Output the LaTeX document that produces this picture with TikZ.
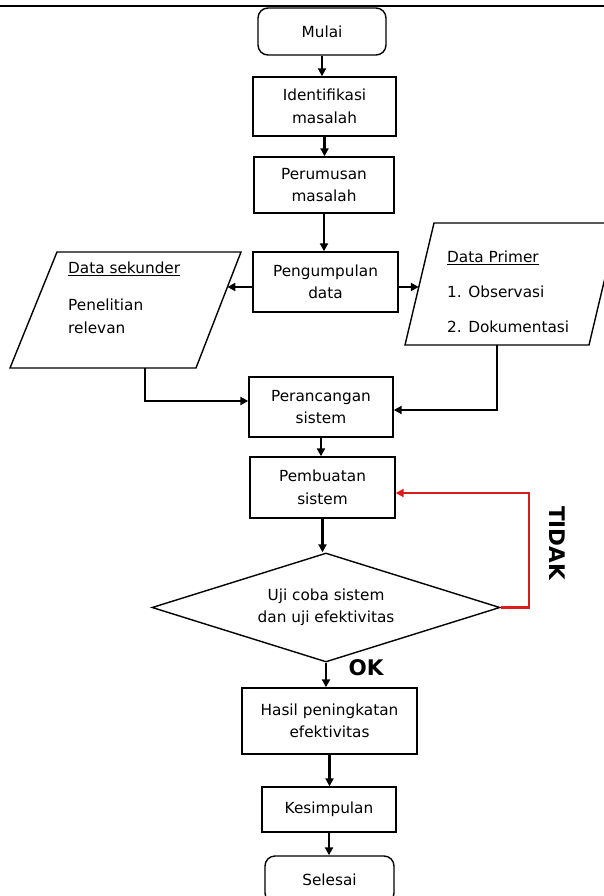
\documentclass[tikz,border=0pt]{standalone}
\usepackage{fontspec}
\setmainfont{DejaVu Sans}
\usetikzlibrary{arrows.meta,shapes.geometric,calc}
\definecolor{tred}{RGB}{218,28,28}
\tikzset{
  proc/.style={draw, line width=1.4pt, align=center, inner sep=0pt,
    font=\fontsize{15.3}{22.5}\selectfont},
  term/.style={proc, rounded corners=10pt},
  decis/.style={proc, diamond, aspect=3.2},
  iobox/.style={draw, line width=1.4pt, line join=miter},
  iotext/.style={align=left, inner sep=0pt, anchor=north west,
    font=\fontsize{15.3}{23}\selectfont},
  arr/.style={line width=2.2pt, -{Triangle[length=8pt,width=8pt]}},
  redarr/.style={arr, draw=tred},
  lbl/.style={inner sep=0pt, font=\fontsize{21.5}{21.5}\selectfont\bfseries}
}
\begin{document}
\begin{tikzpicture}[x=1pt,y=-1pt]
\path[use as bounding box] (0,0) rectangle (604,896);
\clip (0,0) rectangle (604,896);
% top rule
\draw[line width=2.2pt] (0,6.3) -- (604,6.3);

% process nodes
\node[term, minimum width=128pt, minimum height=47pt] (mulai) at (322,31.5) {Mulai};
\node[proc, minimum width=143pt, minimum height=59pt] (ident) at (324.5,106.5) {Identifikasi\\masalah};
\node[proc, minimum width=140pt, minimum height=56pt] (perum) at (324,185) {Perumusan\\masalah};
\node[proc, minimum width=145pt, minimum height=60pt] (peng) at (325.5,282) {Pengumpulan\\data};
\node[proc, minimum width=144pt, minimum height=60pt] (peran) at (321,407) {Perancangan\\sistem};
\node[proc, minimum width=145pt, minimum height=61pt] (pemb) at (322.5,487.5) {Pembuatan\\sistem};
\node[decis, minimum width=348pt, minimum height=109pt] (uji) at (326,607.5) {Uji coba sistem\\dan uji efektivitas};
\node[proc, minimum width=175pt, minimum height=66pt] (hasil) at (329.5,721) {Hasil peningkatan\\efektivitas};
\node[proc, minimum width=134pt, minimum height=45pt] (kesim) at (329,809.5) {Kesimpulan};
\node[term, minimum width=129pt, minimum height=47pt] (seles) at (329.5,879.5) {Selesai};

% data parallelograms
\coordinate (ds1) at (57,252);
\coordinate (ds2) at (241,252);
\coordinate (ds3) at (196,368);
\coordinate (ds4) at (10,368);
\draw[iobox] (ds1) -- (ds2) -- (ds3) -- (ds4) -- cycle;
\node[iotext] (dstext) at (68,262) {\underline{Data sekunder}\\[14pt]Penelitian\\relevan};

\coordinate (dp1) at (434,223);
\coordinate (dp2) at (618,223);
\coordinate (dp3) at (589,345);
\coordinate (dp4) at (405,345);
\draw[iobox] (dp1) -- (dp2) -- (dp3) -- (dp4) -- cycle;
\node[iotext] (dptext) at (447,251) {\underline{Data Primer}\\[12pt]1. Observasi\\[12pt]2. Dokumentasi};

\coordinate (dsR) at (227.4,287);
\coordinate (dpL) at (418.8,287);
\coordinate (dsB) at (145,368);
\coordinate (dpB) at (497,345);

% connectors
\draw[arr] (mulai.south) -- (mulai.south |- ident.north);
\draw[arr] (ident.south) -- (ident.south |- perum.north);
\draw[arr] (perum.south) -- (perum.south |- peng.north);
\draw[arr] ([yshift=-5pt]peng.west) -- (dsR);
\draw[arr] ([yshift=-5pt]peng.east) -- (dpL);
\draw[arr] (dsB) |- ([yshift=6pt]peran.west);
\draw[arr] (dpB) |- ([yshift=-3pt]peran.east);
\draw[arr] (peran.south) -- (peran.south |- pemb.north);
\draw[arr] (pemb.south) -- (pemb.south |- uji.north);
\draw[redarr] (uji.east) -- ++(28,0) |- ([yshift=-5.5pt]pemb.east);
\draw[arr] (uji.south) -- (uji.south |- hasil.north);
\draw[arr] (hasil.south) -- (hasil.south |- kesim.north);
\draw[arr] (kesim.south) -- (kesim.south |- seles.north);

% labels
\node[lbl, rotate=-90] (tidak) at (557,543) {TIDAK};
\node[lbl] (ok) at (366,668) {OK};
\end{tikzpicture}
\end{document}
